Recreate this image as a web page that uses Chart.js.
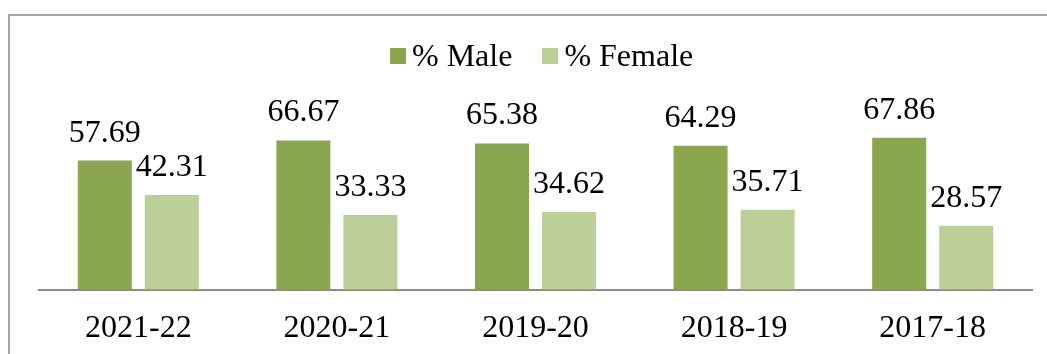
<!DOCTYPE html>
<html>
<head>
<meta charset="utf-8">
<script src="https://cdn.jsdelivr.net/npm/chart.js@4/dist/chart.umd.min.js"></script>
<style>
  html, body { margin: 0; padding: 0; background: #fff; }
  #wrap { position: relative; width: 1047px; height: 354px; overflow: hidden; }
  #frame {
    position: absolute; left: 8px; top: 14px; width: 1100px; height: 400px;
    border-left: 2px solid #a6a6a6; border-top: 2px solid #a6a6a6;
  }
  #chart { position: absolute; left: 0; top: 0; }
  #legend {
    position: absolute; left: 390px; top: 40px; display: flex; align-items: center;
    font-family: "Liberation Serif", "Times New Roman", serif; font-size: 32px; line-height: 31px; color: #000;
  }
  #legend .box { width: 16px; height: 16px; margin-right: 6px; }
  #legend .item { display: flex; align-items: center; margin-right: 30px; }
</style>
</head>
<body>
<div id="wrap">
  <div id="frame"></div>
  <canvas id="chart" width="1047" height="354"></canvas>
  <div id="legend"></div>
</div>
<script>
  const years = ["2021-22", "2020-21", "2019-20", "2018-19", "2017-18"];
  const male = [57.69, 66.67, 65.38, 64.29, 67.86];
  const female = [42.31, 33.33, 34.62, 35.71, 28.57];
  const seriesNames = ["% Male", "% Female"];
  const seriesColors = ["#8aa64f", "#bbcf98"];

  const font = "Liberation Serif";

  // value labels sitting just above each bar
  const barValues = {
    id: "barValues",
    afterDatasetsDraw(chart) {
      const ctx = chart.ctx;
      ctx.save();
      ctx.font = "32px '" + font + "'";
      ctx.fillStyle = "#000";
      ctx.textAlign = "center";
      ctx.textBaseline = "alphabetic";
      chart.data.datasets.forEach((ds, i) => {
        chart.getDatasetMeta(i).data.forEach((bar, j) => {
          ctx.fillText(ds.data[j].toFixed(2), bar.x, bar.y - 19);
        });
      });
      ctx.restore();
    },
  };

  new Chart(document.getElementById("chart"), {
    type: "bar",
    data: {
      labels: years,
      datasets: [
        { label: seriesNames[0], data: male, backgroundColor: seriesColors[0] },
        { label: seriesNames[1], data: female, backgroundColor: seriesColors[1] },
      ],
    },
    options: {
      responsive: false,
      animation: false,
      events: [],
      layout: { padding: { left: 39, right: 15, top: 110.7, bottom: 0 } },
      datasets: { bar: { categoryPercentage: 0.675, barPercentage: 0.806 } },
      plugins: { legend: { display: false }, tooltip: { enabled: false } },
      scales: {
        x: {
          grid: { display: false, drawTicks: false },
          border: { display: true, color: "#8c8c8c", width: 2 },
          ticks: { color: "#000", font: { family: font, size: 32 }, padding: 20 },
          afterFit(scale) { scale.height = 64.5; },
        },
        y: { display: false, min: 0, max: 80 },
      },
    },
    plugins: [barValues],
  });

  const legend = document.getElementById("legend");
  legend.innerHTML = seriesNames
    .map(
      (n, i) => `<div class="item"><div class="box" style="background:${seriesColors[i]}"></div><span>${n}</span></div>`
    )
    .join("");
</script>
</body>
</html>
